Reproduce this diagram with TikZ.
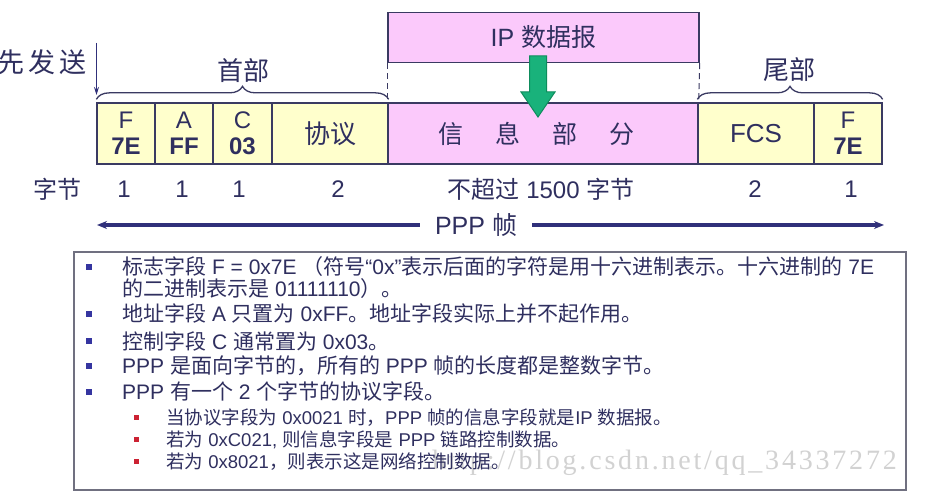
\documentclass[tikz,border=0pt]{standalone}
\usepackage{fontspec}
\setmainfont{Liberation Sans}
\newfontfamily\cjkfont{Noto Sans CJK SC}
\newfontfamily\latinfont{Liberation Sans}
\newfontfamily\markfont[LetterSpace=10]{Liberation Serif}
\usetikzlibrary{arrows.meta,decorations.pathreplacing,calc}

% Han characters and CJK punctuation go to Noto Sans CJK, everything else to Liberation Sans
\newXeTeXintercharclass\hanclass
\newcount\hancode
\def\markhan#1#2{\hancode=#1\relax
  \loop\XeTeXcharclass\hancode=\hanclass\relax
  \ifnum\hancode<#2\relax\advance\hancode by 1\relax\repeat}
\markhan{"4E00}{"9FFF}
\markhan{"3000}{"303F}
\markhan{"FF00}{"FFEF}
\XeTeXinterchartokenstate=1
\XeTeXinterchartoks 0 \hanclass={\cjkfont}
\XeTeXinterchartoks 4095 \hanclass={\cjkfont}
\XeTeXinterchartoks \hanclass 0={\latinfont}
\XeTeXinterchartoks \hanclass 4095={\latinfont}

\newcommand\pxfont[2][]{\fontsize{#2}{\ifx\relax#1\relax#2\else#1\fi}\selectfont}

\definecolor{framec}{HTML}{3A3A62}
\definecolor{txtc}{HTML}{2F2F5F}
\definecolor{yellowc}{HTML}{FFFFCC}
\definecolor{pinkc}{HTML}{FBC9FB}
\definecolor{greenf}{HTML}{19B27B}
\definecolor{greend}{HTML}{0E8C5C}
\definecolor{navyc}{HTML}{30307A}
\definecolor{boxc}{HTML}{707080}
\definecolor{bluebul}{HTML}{3535A0}
\definecolor{redbul}{HTML}{CC2233}
\definecolor{markc}{HTML}{D2D2D2}

\begin{document}
\begin{tikzpicture}[x=1pt,y=-1pt,
  cellbox/.style={draw=framec,line width=1.3pt,minimum height=61pt,inner sep=0pt,
    text=txtc,align=center},
  flagtext/.style={font=\pxfont[26]{24}},
  plain/.style={text=txtc,inner sep=0pt},
  bracec/.style={draw=framec,line width=1.3pt,decorate,decoration={brace,amplitude=13pt}},
  guide/.style={draw=framec,line width=1pt,dash pattern=on 6pt off 4pt},
  notetext/.style={text=txtc,inner sep=0pt,anchor=west,font=\pxfont{21}},
  subtext/.style={text=txtc,inner sep=0pt,anchor=west,font=\pxfont{18.5}},
  bluebullet/.style={fill=bluebul,minimum size=6pt,inner sep=0pt},
  redbullet/.style={fill=redbul,minimum size=5pt,inner sep=0pt}]

\path[fill=white,use as bounding box] (0,0) rectangle (935,502);

% ---- IP datagram above the frame ----
\node[draw=framec,line width=1.3pt,fill=pinkc,minimum width=311pt,minimum height=50pt,
  inner sep=0pt,text=txtc,font=\pxfont{25}] (ip) at (543.5,37.5) {IP 数据报};

% ---- PPP frame fields ----
\node[cellbox,fill=yellowc,minimum width=58pt,flagtext] (fa) at (126,133.5) {F\\\textbf{7E}};
\node[cellbox,fill=yellowc,minimum width=58pt,flagtext] (addr) at (184,133.5) {A\\\textbf{FF}};
\node[cellbox,fill=yellowc,minimum width=59pt,flagtext] (ctrl) at (242.5,133.5) {C\\\textbf{03}};
\node[cellbox,fill=yellowc,minimum width=116pt,font=\pxfont{26}] (proto) at (330,133.5) {协议};
\node[cellbox,fill=pinkc,minimum width=310pt,font=\pxfont{25}] (info) at (543,133.5)
  {信\hspace{32pt}息\hspace{32pt}部\hspace{32pt}分\hspace{14pt}};
\node[cellbox,fill=yellowc,minimum width=116pt,font=\pxfont{26}] (fcs) at (756,133.5) {FCS};
\node[cellbox,fill=yellowc,minimum width=68pt,flagtext] (fb) at (848,133.5) {F\\\textbf{7E}};

% dashed guides from the datagram down to the information field
\draw[guide] (ip.south west) -- (info.north west);
\draw[guide] (ip.south east) -- (info.north east);

% green arrow: the datagram goes into the information field
\filldraw[fill=greenf,draw=greend,line width=1pt]
  (529.5,56) -- (546.5,56) -- (546.5,92) -- (555,92) -- (538,117) -- (521,92) -- (529.5,92) -- cycle;

% ---- header / trailer braces ----
\draw[bracec] ($(fa.north west)+(0,-3)$) -- ($(proto.north east)+(0,-3)$);
\node[plain,font=\pxfont{26}] (head) at (243,71) {首部};
\draw[bracec] ($(fcs.north west)+(0,-3)$) -- ($(fb.north east)+(0,-3)$);
\node[plain,font=\pxfont{26}] (tail) at (789,70) {尾部};

% ---- sent first ----
\node[plain,anchor=east,font=\pxfont{27}] (first) at (87,62) {先\hspace{4pt}发\hspace{4pt}送};
\coordinate (sendtop) at (96.5,43);
\coordinate (sendtip) at (96.5,95);
\draw[navyc,line width=1.6pt,-{Stealth[length=8pt,width=5pt]}] (sendtop) -- (sendtip);

% ---- byte counts ----
\node[plain,font=\pxfont{24}] (bytes) at (57,189) {字节};
\node[plain,font=\pxfont{24}] (n1) at (124,189) {1};
\node[plain,font=\pxfont{24}] (n2) at (182,189) {1};
\node[plain,font=\pxfont{24}] (n3) at (239,189) {1};
\node[plain,font=\pxfont{24}] (n4) at (338,189) {2};
\node[plain,font=\pxfont{24}] (n5) at (541,189) {不超过 1500 字节};
\node[plain,font=\pxfont{24}] (n6) at (755,189) {2};
\node[plain,font=\pxfont{24}] (n7) at (851,189) {1};

% ---- whole frame ----
\coordinate (pppL) at (97,225);
\coordinate (pppR) at (884,225);
\draw[navyc,line width=3.5pt,{Stealth[length=10pt,width=8pt]}-{Stealth[length=10pt,width=8pt]}]
  (pppL) -- node[pos=0.4816,fill=white,inner xsep=15pt,inner ysep=0pt,text=txtc,font=\pxfont{25}] (ppp) {PPP 帧} (pppR);

% ---- notes ----
\node[draw=boxc,line width=1.5pt,minimum width=832pt,minimum height=238pt,inner sep=0pt] (notes) at (490,371) {};
\node[font=\markfont\fontsize{28}{28}\selectfont,text=markc,inner sep=0pt,anchor=east] (mark) at (897,463)
  {http://blog.csdn.net/qq\_34337272};

\node[bluebullet] (b1) at (89,267) {};
\node[notetext] (t1) at (122,267) {标志字段 F = 0x7E （符号“0x”表示后面的字符是用十六进制表示。十六进制的 7E};
\node[notetext] (t1b) at (122,289) {的二进制表示是 01111110）。};
\node[bluebullet] (b2) at (89,314) {};
\node[notetext] (t2) at (122,314) {地址字段 A 只置为 0xFF。地址字段实际上并不起作用。};
\node[bluebullet] (b3) at (89,341) {};
\node[notetext] (t3) at (122,341) {控制字段 C 通常置为 0x03。};
\node[bluebullet] (b4) at (89,366) {};
\node[notetext] (t4) at (122,366) {PPP 是面向字节的，所有的 PPP 帧的长度都是整数字节。};
\node[bluebullet] (b5) at (89,392) {};
\node[notetext] (t5) at (122,392) {PPP 有一个 2 个字节的协议字段。};

\node[redbullet] (s1) at (136,418) {};
\node[subtext] (u1) at (166,418) {当协议字段为 0x0021 时，PPP 帧的信息字段就是IP 数据报。};
\node[redbullet] (s2) at (136,440) {};
\node[subtext] (u2) at (166,440) {若为 0xC021, 则信息字段是 PPP 链路控制数据。};
\node[redbullet] (s3) at (136,462) {};
\node[subtext] (u3) at (166,462) {若为 0x8021，则表示这是网络控制数据。};

\end{tikzpicture}
\end{document}
